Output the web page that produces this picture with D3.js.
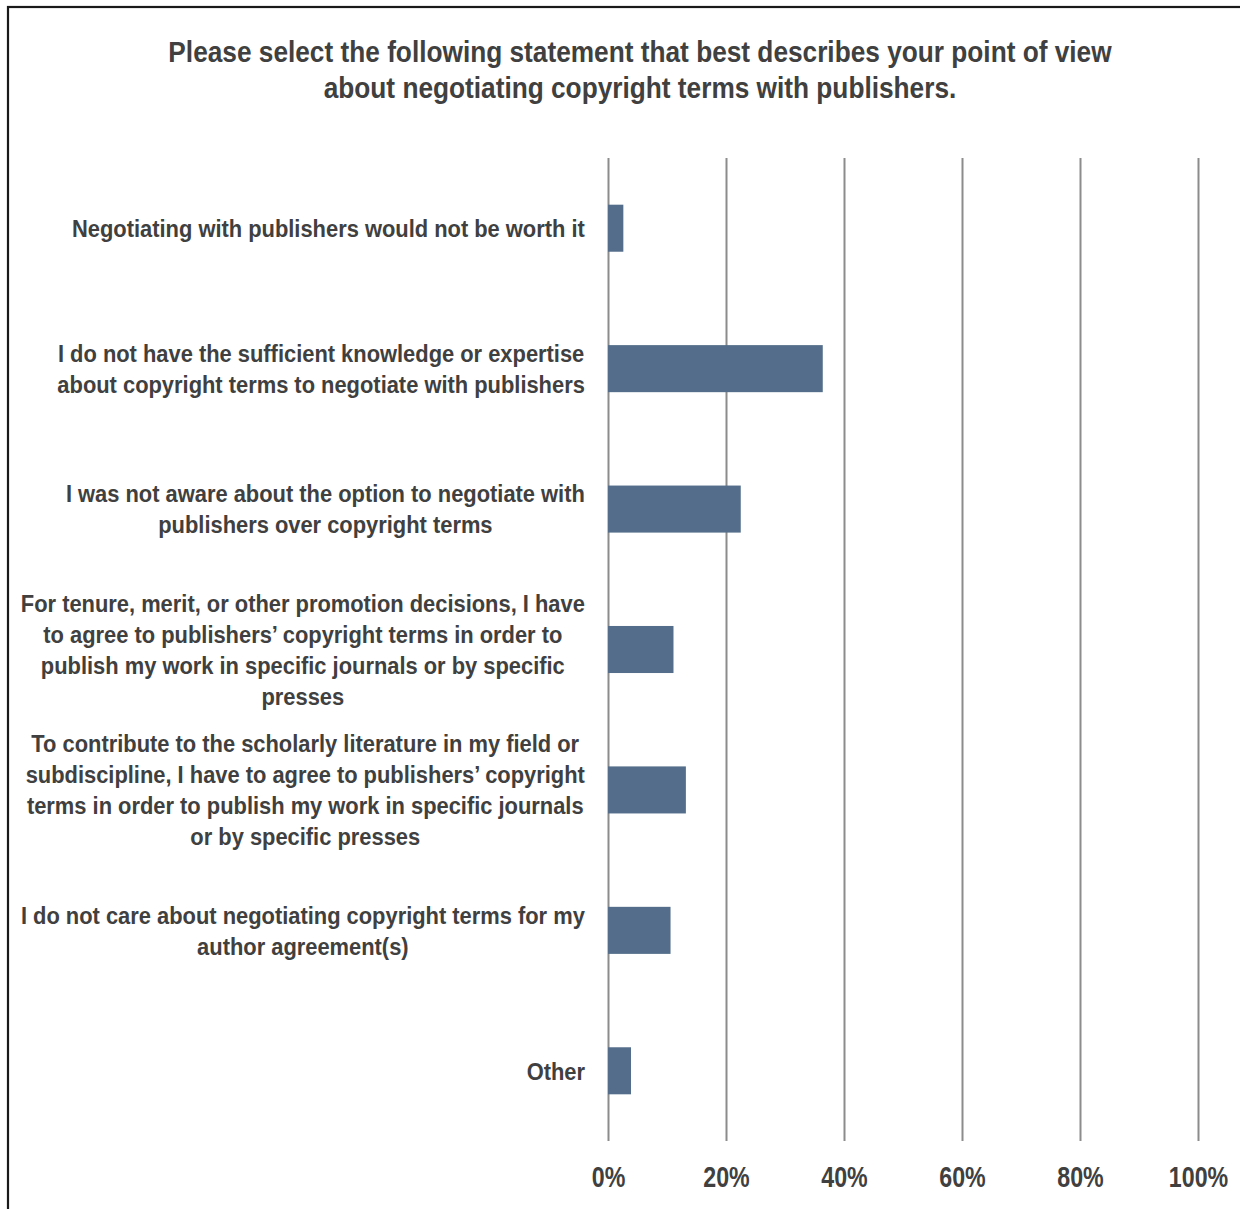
<!DOCTYPE html>
<html><head><meta charset="utf-8">
<script src="https://cdn.jsdelivr.net/npm/d3@7"></script>
<style>
html,body{margin:0;padding:0;background:#fff;overflow:hidden;}
text{font-family:"Liberation Sans","Arial",sans-serif;font-weight:bold;fill:#404040;}
</style></head>
<body>
<script>
const titleLines = ["Please select the following statement that best describes your point of view",
                    "about negotiating copyright terms with publishers."];
const categories = [
  ["Negotiating with publishers would not be worth it"],
  ["I do not have the sufficient knowledge or expertise","about copyright terms to negotiate with publishers"],
  ["I was not aware about the option to negotiate with","publishers over copyright terms"],
  ["For tenure, merit, or other promotion decisions, I have","to agree to publishers\u2019 copyright terms in order to","publish my work in specific journals or by specific","presses"],
  ["To contribute to the scholarly literature in my field or","subdiscipline, I have to agree to publishers\u2019 copyright","terms in order to publish my work in specific journals","or by specific presses"],
  ["I do not care about negotiating copyright terms for my","author agreement(s)"],
  ["Other"]
];
const values = [2.6, 36.4, 22.5, 11.1, 13.2, 10.6, 3.9];
const tickValues = [0, 20, 40, 60, 80, 100];
const tickLabels = ["0%", "20%", "40%", "60%", "80%", "100%"];

const W = 1240, H = 1209;
const svg = d3.select("body").append("svg").attr("width", W).attr("height", H);

svg.append("rect").attr("x", 8).attr("y", 7).attr("width", 1300).attr("height", 1300)
  .attr("fill", "none").attr("stroke", "#1a1a1a").attr("stroke-width", 2.2);

const x = d3.scaleLinear().domain([0, 100]).range([608, 1198]);
const y = d3.scaleBand().domain(d3.range(categories.length)).range([158, 1141]).paddingInner(0.665).paddingOuter(0.3325);

function squeeze(sel, ax, sx) {
  sel.attr("transform", `translate(${ax},0) scale(${sx},1) translate(${-ax},0)`);
}

// title
const title = svg.append("text").attr("text-anchor", "middle").style("font-size", "30px");
title.selectAll("tspan").data(titleLines).join("tspan")
  .attr("x", 640).attr("y", (d, i) => 62 + i * 36).text(d => d);
squeeze(title, 640, 0.875);

// gridlines via axis
const gAxis = svg.append("g").attr("transform", "translate(0,1141)")
  .call(d3.axisBottom(x).tickValues(tickValues).tickFormat((d, i) => tickLabels[i]).tickSize(-(1141 - 158)));
gAxis.select(".domain").remove();
gAxis.selectAll(".tick line").attr("stroke", "#8c8c8c").attr("stroke-width", 2);
gAxis.selectAll(".tick text").attr("fill", "#404040").attr("y", 46).attr("dy", 0)
  .style("font-size", "29px")
  .style("font-family", "'Liberation Sans',Arial,sans-serif").style("font-weight", "bold")
  .attr("transform", "scale(0.8,1)");

// bars
svg.append("g").selectAll("rect").data(values).join("rect")
  .attr("x", x(0)).attr("y", (d, i) => y(i)).attr("width", d => x(d) - x(0)).attr("height", y.bandwidth())
  .attr("fill", "#536d8a");

// category labels
const lh = 31, fs = 24.6, sx = 0.89;
const lg = svg.append("g");
categories.forEach((lines, i) => {
  const t = lg.append("text").style("font-size", fs + "px").attr("text-anchor", "middle");
  const cy = y(i) + y.bandwidth() / 2;
  const n = lines.length;
  const ts = t.selectAll("tspan").data(lines).join("tspan").text(d => d);
  let maxW = 0;
  ts.each(function() { maxW = Math.max(maxW, this.getComputedTextLength()); });
  const cx = 585 - maxW * sx / 2;
  ts.attr("x", cx).attr("y", (d, j) => cy + (j - (n - 1) / 2) * lh + fs * 0.36);
  squeeze(t, cx, sx);
});
</script>
</body></html>
